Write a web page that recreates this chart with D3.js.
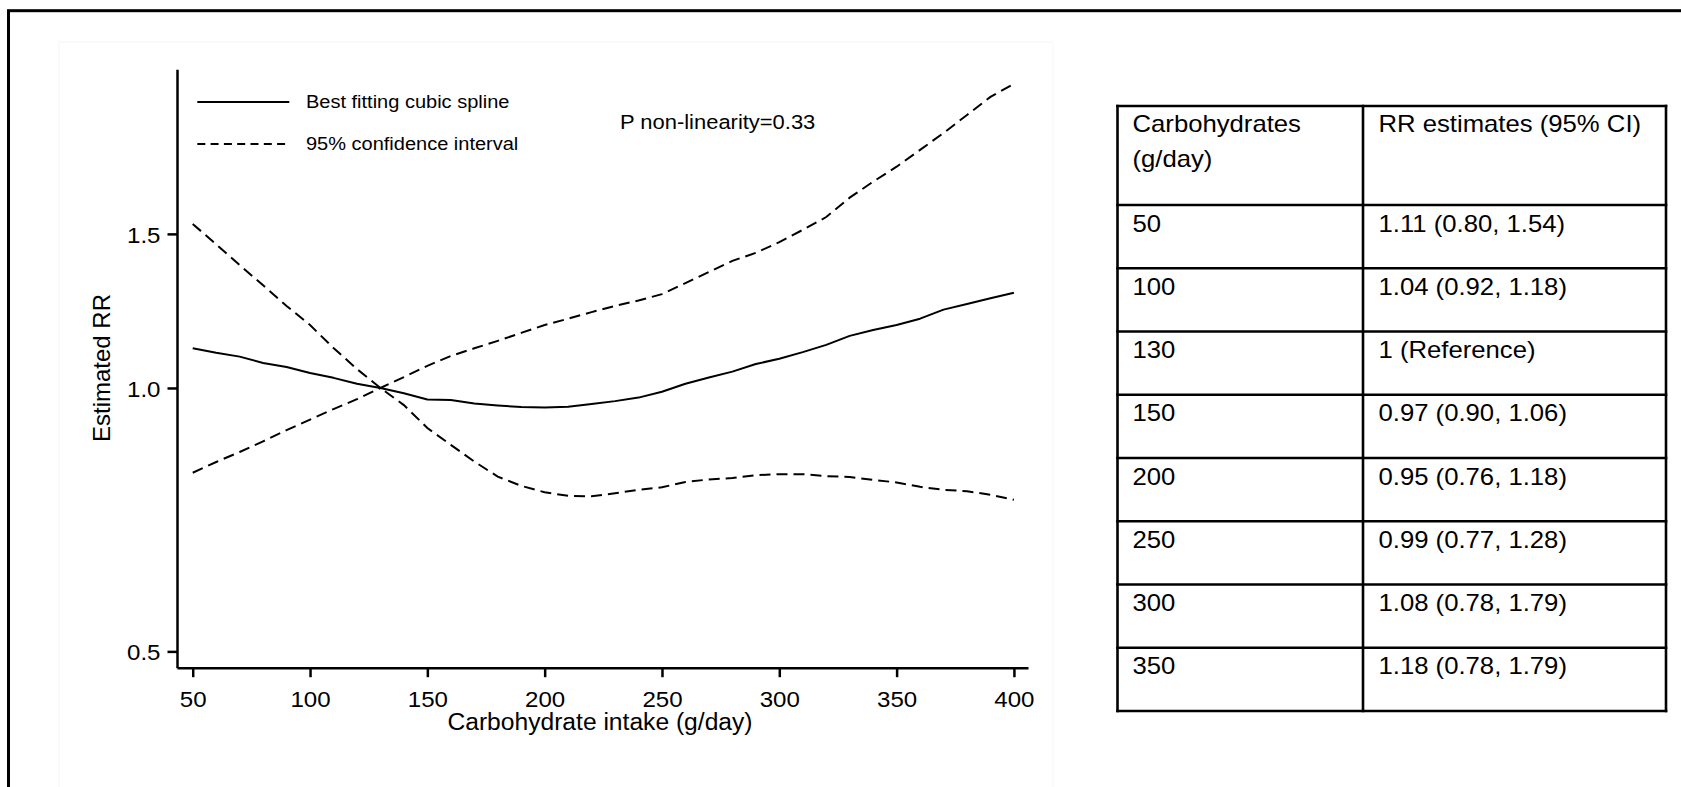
<!DOCTYPE html>
<html>
<head>
<meta charset="utf-8">
<script src="https://cdn.jsdelivr.net/npm/d3@7"></script>
<style>
  html, body { margin: 0; padding: 0; background: #ffffff; }
  svg { display: block; }
  text { font-family: "Liberation Sans", Arial, Helvetica, sans-serif; fill: #000; }
</style>
</head>
<body>
<svg id="chart" width="1681" height="787"></svg>
<script>
// Carbohydrate intake grid (g/day)
const intake = [50, 60, 70, 80, 90, 100, 110, 120, 130, 140, 150, 160, 170, 180, 190, 200, 210, 220,
                230, 240, 250, 260, 270, 280, 290, 300, 310, 320, 330, 340, 350, 360, 370, 380, 390, 400];

// Best fitting cubic spline (estimated RR)
const splineRR = [1.11, 1.097, 1.086, 1.068, 1.057, 1.04, 1.027, 1.011, 1.0, 0.986, 0.97, 0.969, 0.96, 0.955,
                  0.951, 0.95, 0.952, 0.959, 0.966, 0.975, 0.99, 1.011, 1.028, 1.044, 1.065, 1.08, 1.099, 1.12,
                  1.147, 1.165, 1.18, 1.2, 1.229, 1.247, 1.266, 1.285];

// 95% confidence band: the bound that starts at 0.80 and climbs past the reference point
const ciRisingRR = [0.80, 0.823, 0.845, 0.869, 0.895, 0.92, 0.946, 0.971, 1.0, 1.029, 1.06, 1.088, 1.11, 1.132,
                    1.156, 1.18, 1.20, 1.221, 1.241, 1.259, 1.28, 1.318, 1.357, 1.397, 1.427, 1.468, 1.516, 1.568,
                    1.65, 1.721, 1.79, 1.871, 1.956, 2.051, 2.151, 2.226];

// 95% confidence band: the bound that starts at 1.54 and drops past the reference point
const ciFallingRR = [1.54, 1.459, 1.382, 1.31, 1.241, 1.18, 1.111, 1.051, 1.0, 0.956, 0.90, 0.861, 0.824, 0.792,
                     0.773, 0.76, 0.753, 0.752, 0.758, 0.765, 0.77, 0.781, 0.786, 0.789, 0.795, 0.797, 0.797, 0.793,
                     0.791, 0.785, 0.78, 0.771, 0.765, 0.762, 0.755, 0.745];

// Axis ticks
const xTicks = [50, 100, 150, 200, 250, 300, 350, 400];
const yTicks = [0.5, 1.0, 1.5];
const yTickLabels = ["0.5", "1.0", "1.5"];

// Table beside the plot
const tableHeader = [["Carbohydrates", "(g/day)"], ["RR estimates (95% CI)"]];
const tableIntake = ["50", "100", "130", "150", "200", "250", "300", "350"];
const tableEstimate = ["1.11 (0.80, 1.54)", "1.04 (0.92, 1.18)", "1 (Reference)", "0.97 (0.90, 1.06)",
                       "0.95 (0.76, 1.18)", "0.99 (0.77, 1.28)", "1.08 (0.78, 1.79)", "1.18 (0.78, 1.79)"];

const FONT = '"Liberation Sans", Arial, Helvetica, sans-serif';
const STRETCH = 1.07;   // glyphs are drawn slightly wide

const svg = d3.select("#chart");

// widen a text element horizontally
function widen(sel) {
  sel.each(function () {
    const len = this.getComputedTextLength();
    if (len > 0) {
      d3.select(this).attr("textLength", len * STRETCH).attr("lengthAdjust", "spacingAndGlyphs");
    }
  });
}

// frame
svg.append("rect")
  .attr("x", 59).attr("y", 42).attr("width", 994).attr("height", 800)
  .attr("fill", "none").attr("stroke", "#f6f6f6").attr("stroke-width", 1);
svg.append("rect")
  .attr("x", 8.5).attr("y", 10.7).attr("width", 1700).attr("height", 800)
  .attr("fill", "none").attr("stroke", "#000").attr("stroke-width", 3);

// scales
const x = d3.scaleLinear().domain([43.3, 406]).range([177, 1028]);
const y = d3.scaleLog().domain([0.479, 2.313]).range([667.7, 69.3]);

// y axis
const gy = svg.append("g")
  .attr("transform", "translate(177,0)")
  .call(d3.axisLeft(y).tickValues(yTicks).tickFormat((d, i) => yTickLabels[i])
        .tickSize(9.5).tickSizeOuter(0).tickPadding(7));
gy.attr("font-family", FONT).attr("font-size", 22.5).style("color", "#000");
gy.selectAll("path, line").attr("stroke-width", 2.5);
gy.selectAll("text").attr("dy", null).attr("y", 8.2);

// x axis
const gx = svg.append("g")
  .attr("transform", "translate(0,667.7)")
  .call(d3.axisBottom(x).tickValues(xTicks).tickFormat(d3.format("d"))
        .tickSize(9.5).tickSizeOuter(0).tickPadding(13.5));
gx.attr("font-family", FONT).attr("font-size", 22.5).style("color", "#000");
gx.selectAll("path, line").attr("stroke-width", 2.5);
gx.selectAll("text").attr("dy", null).attr("y", 39);

widen(gy.selectAll("text"));
widen(gx.selectAll("text"));

// axis titles
svg.append("text")
  .attr("x", 600).attr("y", 730).attr("text-anchor", "middle")
  .attr("font-size", 23)
  .text("Carbohydrate intake (g/day)")
  .call(widen);

svg.append("text")
  .attr("transform", "translate(110,368) rotate(-90)")
  .attr("text-anchor", "middle").attr("font-size", 24)
  .text("Estimated RR");

// curves
const line = d3.line().x((d, i) => x(intake[i])).y(d => y(d));

svg.append("path").datum(ciRisingRR)
  .attr("d", line).attr("fill", "none").attr("stroke", "#000")
  .attr("stroke-width", 2).attr("stroke-dasharray", "11,6");
svg.append("path").datum(ciFallingRR)
  .attr("d", line).attr("fill", "none").attr("stroke", "#000")
  .attr("stroke-width", 2).attr("stroke-dasharray", "11,6");
svg.append("path").datum(splineRR)
  .attr("d", line).attr("fill", "none").attr("stroke", "#000")
  .attr("stroke-width", 2).attr("stroke-linejoin", "round");

// legend
const legend = [
  { label: "Best fitting cubic spline", dash: null, ly: 102, ty: 107.5 },
  { label: "95% confidence interval", dash: "8,5.3", ly: 144, ty: 149.5 }
];
legend.forEach(l => {
  svg.append("line")
    .attr("x1", 197.3).attr("x2", 289.3).attr("y1", l.ly).attr("y2", l.ly)
    .attr("stroke", "#000").attr("stroke-width", 2)
    .attr("stroke-dasharray", l.dash);
  svg.append("text")
    .attr("x", 306).attr("y", l.ty).attr("font-size", 18.7)
    .text(l.label).call(widen);
});

// non-linearity note
svg.append("text")
  .attr("x", 620).attr("y", 129.3).attr("font-size", 20.5)
  .text("P non-linearity=0.33").call(widen);

// table
const tLeft = 1117.5, tMid = 1363, tRight = 1666;
const tTop = 106, headBottom = 205, rowH = 63.25;
const rowLines = [tTop, headBottom].concat(tableIntake.map((d, i) => headBottom + rowH * (i + 1)));
const tBottom = rowLines[rowLines.length - 1];

const tg = svg.append("g");
tg.selectAll("line.h").data(rowLines).join("line")
  .attr("x1", tLeft).attr("x2", tRight).attr("y1", d => d).attr("y2", d => d)
  .attr("stroke", "#000").attr("stroke-width", 2.6).attr("stroke-linecap", "square");
tg.selectAll("line.v").data([tLeft, tMid, tRight]).join("line")
  .attr("x1", d => d).attr("x2", d => d).attr("y1", tTop).attr("y2", tBottom)
  .attr("stroke", "#000").attr("stroke-width", 2.6).attr("stroke-linecap", "square");

const colX = [tLeft + 15, tMid + 15.5];
tableHeader.forEach((lines, c) => {
  lines.forEach((s, k) => {
    tg.append("text").attr("x", colX[c]).attr("y", 131.7 + k * 35)
      .attr("font-size", 24).text(s).call(widen);
  });
});
tableIntake.forEach((s, i) => {
  const base = headBottom + rowH * i + 26.7;
  tg.append("text").attr("x", colX[0]).attr("y", base).attr("font-size", 24).text(s).call(widen);
  tg.append("text").attr("x", colX[1]).attr("y", base).attr("font-size", 24).text(tableEstimate[i]).call(widen);
});
</script>
</body>
</html>
